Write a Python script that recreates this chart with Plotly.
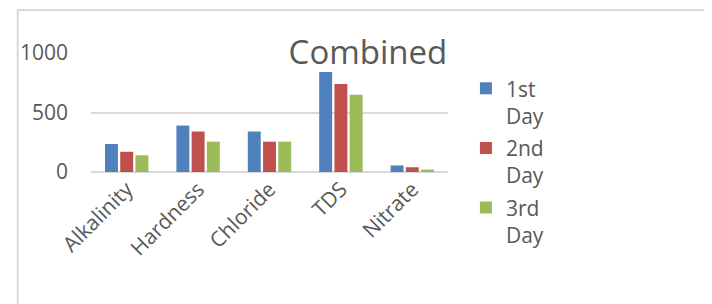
import plotly.graph_objects as go

categories = ["Alkalinity", "Hardness", "Chloride", "TDS", "Nitrate"]
day1 = [235, 390, 340, 840, 55]
day2 = [170, 340, 255, 740, 40]
day3 = [140, 255, 255, 650, 20]
series_names = ["1st<br>Day", "2nd<br>Day", "3rd<br>Day"]
colors = ["#4F81BD", "#C0504D", "#9BBB59"]
tick_vals = [0, 500, 1000]

FONT = "Open Sans"
GRAY = "#595959"

fig = go.Figure()
for i, (name, vals, c) in enumerate(zip(series_names, [day1, day2, day3], colors)):
    fig.add_trace(go.Bar(x=categories, y=vals, name=name, marker_color=c,
                         marker_line_width=0, legendgroup=f"g{i}"))

OFF = 8  # page body margin
W, H = 712 - OFF, 304 - OFF
RL, RT, pw, ph = 83.3, 52.7, 364.4, 119.6
L = RL - OFF
T = RT - OFF
R = W - L - pw
B = H - T - ph

def px2x(p):
    return (p - RL) / pw

def py2y(p):
    return (RT + ph - p) / ph

fig.update_layout(
    width=W, height=H,
    margin=dict(l=L, r=R, t=T, b=B, pad=0),
    paper_bgcolor="white", plot_bgcolor="white",
    barmode="group", bargap=0.36, bargroupgap=0.15,
    font=dict(family=FONT, color=GRAY, size=21),
    showlegend=True,
    legend=dict(x=px2x(466), xanchor="left", y=py2y(68), yanchor="top",
                valign="top", font=dict(size=21, color=GRAY),
                itemwidth=30, tracegroupgap=2, maxheight=260),
    title=dict(text="Combined", x=px2x(366), xanchor="center",
               xref="paper", yref="container", y=1 - (52 - OFF) / H,
               yanchor="middle",
               font=dict(size=33, color=GRAY, family=FONT)),
    xaxis=dict(showline=False, ticks="", tickangle=-45,
               tickfont=dict(size=21, color=GRAY), showgrid=False),
    yaxis=dict(range=[0, 1000], tickvals=tick_vals, showgrid=True,
               gridcolor="#D9D9D9", gridwidth=2, zeroline=True,
               zerolinecolor="#D9D9D9", zerolinewidth=2, showline=False,
               ticks="", ticklabelstandoff=22,
               tickfont=dict(size=21, color=GRAY)),
    shapes=[dict(type="rect", xref="paper", yref="paper",
                 x0=px2x(8.5), x1=px2x(730), y0=py2y(330), y1=py2y(9.5),
                 line=dict(color="#D9D9D9", width=2), layer="below")],
)

fig.write_html("out.html")
